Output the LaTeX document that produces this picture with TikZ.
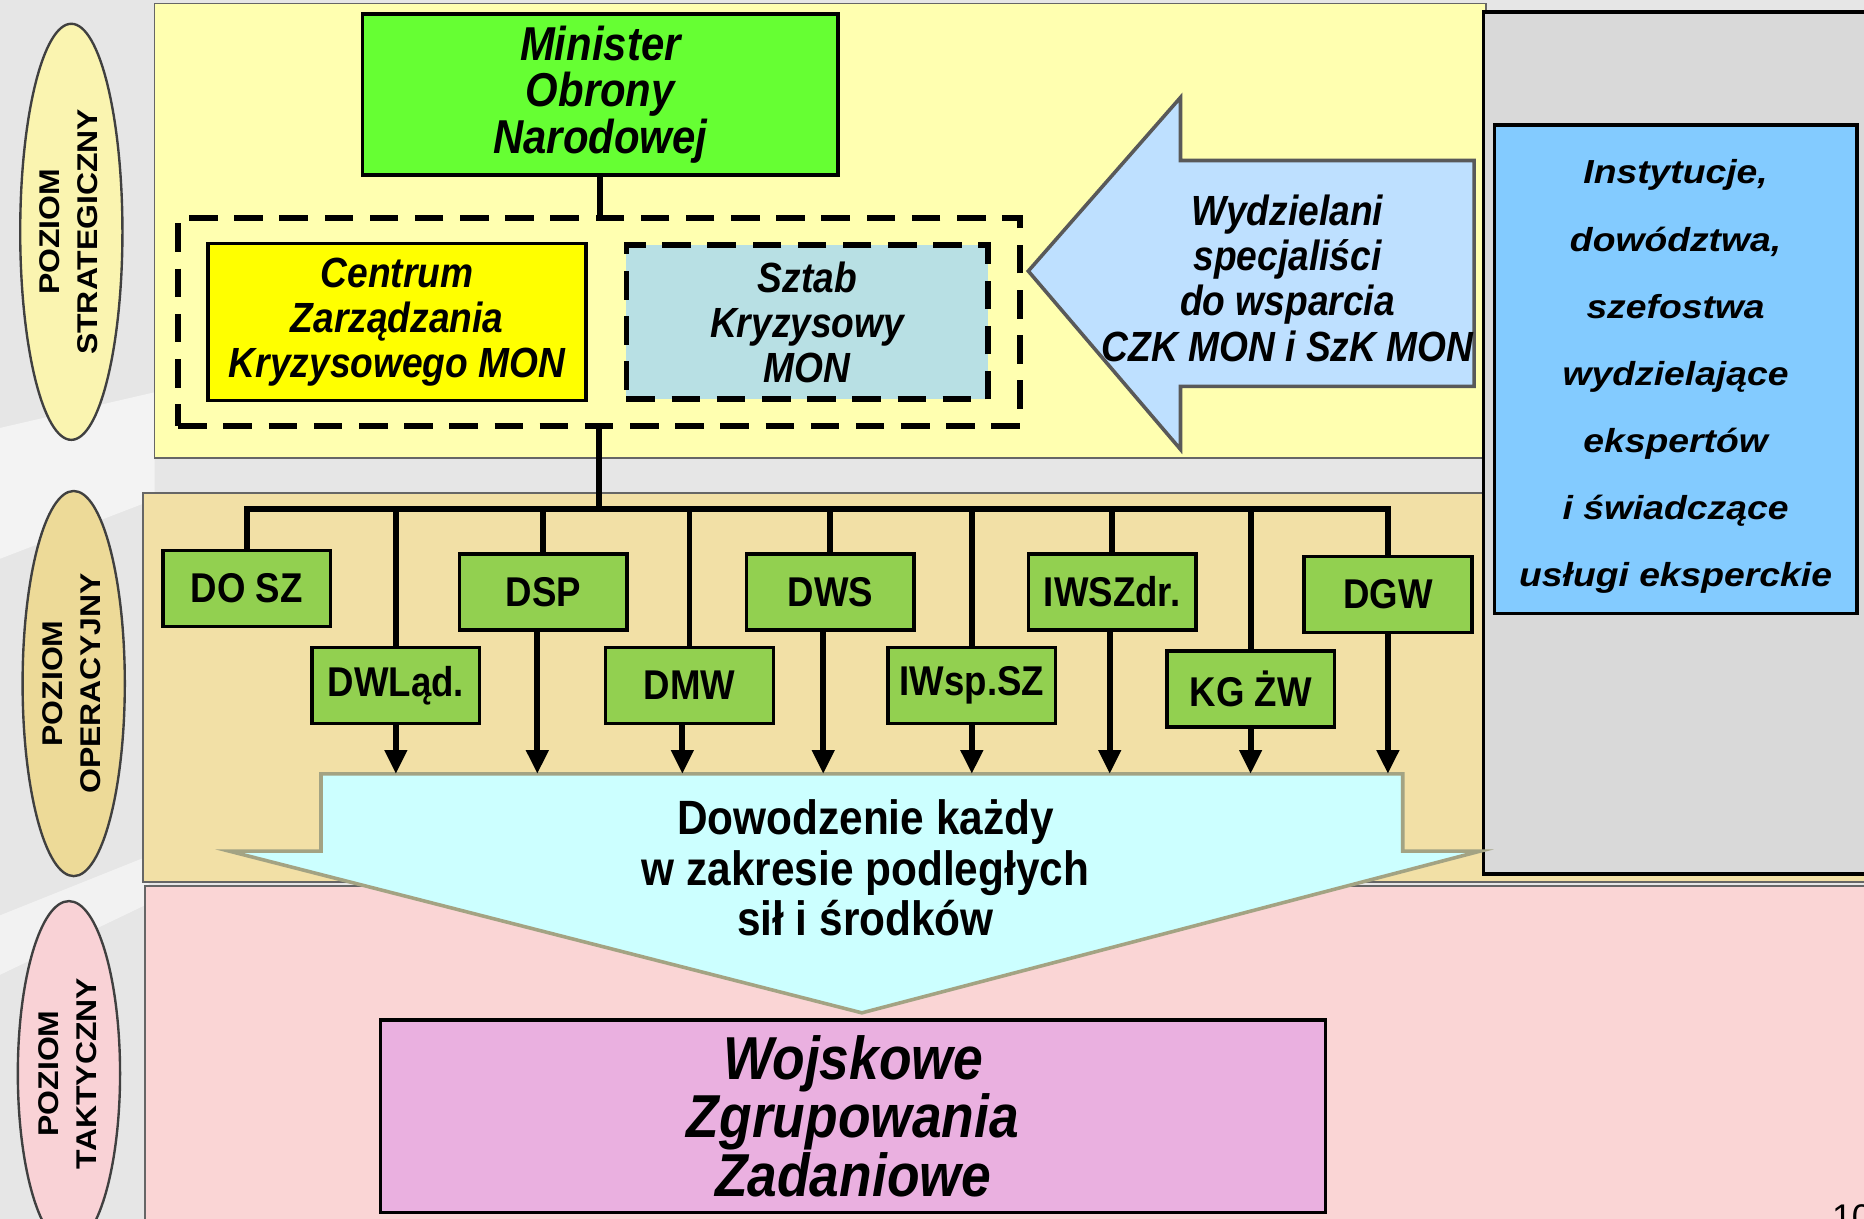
\documentclass[tikz,border=0pt]{standalone}
\usepackage{fontspec}
\setmainfont{Liberation Sans}
\newfontfamily\narrowfont[FakeStretch=0.88]{Liberation Sans}
\newfontfamily\widefont[FakeStretch=1.12]{Liberation Sans}
\usetikzlibrary{arrows.meta,shapes.geometric}
\definecolor{bggray}{HTML}{E6E6E6}
\definecolor{stratband}{HTML}{FFFFB0}
\definecolor{operband}{HTML}{F2E0A6}
\definecolor{taktband}{HTML}{FAD5D5}
\definecolor{stratell}{HTML}{FAF4B0}
\definecolor{operell}{HTML}{EDDA98}
\definecolor{taktell}{HTML}{F9D2D6}
\definecolor{minister}{HTML}{66FF33}
\definecolor{czk}{HTML}{FFFF00}
\definecolor{szk}{HTML}{B8E0E4}
\definecolor{arrowblue}{HTML}{BEE0FF}
\definecolor{panelgray}{HTML}{D9D9D9}
\definecolor{instblue}{HTML}{83CBFF}
\definecolor{boxgreen}{HTML}{92D050}
\definecolor{cmdcyan}{HTML}{CCFFFF}
\definecolor{cmdborder}{HTML}{A3A383}
\definecolor{wzz}{HTML}{EAB0E0}
\tikzset{
  conn/.style={line width=5pt, draw=black},
  arr/.style={conn, -{Triangle[width=18pt,length=20pt]}},
  band/.style={draw=black!60, line width=1.5pt},
  levelell/.style={ellipse, draw=black!75, line width=2pt, minimum width=86pt, inner sep=0pt},
  leveltext/.style={rotate=90, align=center, inner sep=0pt, font=\widefont\bfseries\fontsize{24}{32}\selectfont},
  mainbox/.style={draw=black, line width=3pt, align=center, inner sep=0pt},
  gbox/.style={mainbox, fill=boxgreen, minimum width=141pt, minimum height=64pt, font=\narrowfont\bfseries\fontsize{35}{38}\selectfont},
  dashbox/.style={line width=5pt, dash pattern=on 24pt off 14pt},
  bigtext/.style={align=center, inner sep=0pt, font=\narrowfont\bfseries\itshape\fontsize{35.5}{38}\selectfont}
}
\begin{document}
\begin{tikzpicture}[x=1pt,y=-1pt]
\useasboundingbox (0,0) rectangle (1568,1025);
% background
\fill[bggray] (0,0) rectangle (1568,1025);
\fill[white,opacity=0.55] (0,360) -- (130,330) -- (130,420) -- (0,470) -- cycle;
\fill[white,opacity=0.5] (0,770) -- (125,720) -- (125,760) -- (0,820) -- cycle;
% bands
\fill[taktband,band] (122,745) rectangle (1575,1030);
\fill[operband,band] (120,415) rectangle (1575,742);
\fill[stratband,band] (130,3) rectangle (1250,385);
% level ellipses
\node[levelell, fill=stratell, minimum height=350pt] (eS) at (60,195) {};
\node[leveltext] (tS) at (58,195) {POZIOM\\STRATEGICZNY};
\node[levelell, fill=operell, minimum height=324pt] (eO) at (62,575) {};
\node[leveltext] (tO) at (60,575) {POZIOM\\OPERACYJNY};
\node[levelell, fill=taktell, minimum height=290pt] (eT) at (58,903) {};
\node[leveltext] (tT) at (57,903) {POZIOM\\TAKTYCZNY};
% right gray panel
\draw[fill=panelgray, draw=black, line width=3pt] (1248,10) rectangle (1575,735);
\node[mainbox, fill=instblue, minimum width=305pt, minimum height=411pt] (inst) at (1409.5,310.5) {};
\node[align=center, inner sep=0pt, font=\widefont\bfseries\itshape\fontsize{28}{56.5}\selectfont] (instt) at (1409.5,317) {Instytucje,\\dowództwa,\\szefostwa\\wydzielające\\ekspertów\\i świadczące\\usługi eksperckie};
% strategic level
\node[mainbox, fill=minister, minimum width=400pt, minimum height=135pt, font=\narrowfont\bfseries\itshape\fontsize{40}{39}\selectfont] (mon) at (505,79.5) {Minister\\Obrony\\Narodowej};
\node[dashbox, draw=black, minimum width=708pt, minimum height=175pt, inner sep=0pt] (outer) at (504,270.5) {};
\node[mainbox, fill=czk, minimum width=318pt, minimum height=132pt, font=\narrowfont\bfseries\itshape\fontsize{35.5}{38}\selectfont] (czkb) at (334,271) {Centrum\\Zarządzania\\Kryzysowego MON};
\node[fill=szk, draw=black, dashbox, minimum width=304pt, minimum height=130pt, align=center, inner sep=0pt, font=\narrowfont\bfseries\itshape\fontsize{35.5}{38}\selectfont] (szkb) at (679,271) {Sztab\\Kryzysowy\\MON};
\draw[conn] (mon.south) -- (outer.north -| mon.south);
% left block arrow
\draw[fill=arrowblue, draw=black!65, line width=3pt, line join=miter]
  (865,228) -- (993,82) -- (993,135) -- (1240,135) -- (1240,325) -- (993,325) -- (993,378) -- cycle;
\node[bigtext] (wyd) at (1083,234) {Wydzielani\\specjaliści\\do wsparcia\\CZK MON i SzK MON};
% operational boxes
\node[gbox] (doz) at (207.5,495) {DO SZ};
\node[gbox] (dsp) at (457,498) {DSP};
\node[gbox] (dws) at (698.5,498) {DWS};
\node[gbox] (iwszdr) at (935.5,498) {IWSZdr.};
\node[gbox] (dgw) at (1167.5,500) {DGW};
\node[gbox] (dwl) at (333,576.5) {DWLąd.};
\node[gbox] (dmw) at (580,576.5) {DMW};
\node[gbox] (iwsp) at (817.5,576.5) {IWsp.SZ};
\node[gbox] (kgzw) at (1052,579.5) {KG ŻW};
\coordinate (bus) at (505,428);
\coordinate (atop) at (0,651);
\draw[conn] (outer.south) -- (outer.south |- bus);
\draw[conn, line cap=rect] (doz.north) -- (doz.north |- bus) -- (dgw.north |- bus) -- (dgw.north);
\foreach \n in {dsp,dws,iwszdr,dwl,dmw,iwsp,kgzw}
  \draw[conn] (\n.north) -- (\n.north |- bus);
% big down arrow
\draw[fill=cmdcyan, draw=cmdborder, line width=3pt, line join=miter]
  (270,651) -- (1180,651) -- (1180,716) -- (1245,716) -- (725,852) -- (193,716) -- (270,716) -- cycle;
\foreach \n/\dx in {dwl/0,dsp/-5,dmw/-6,dws/-6,iwsp/0,iwszdr/-2,kgzw/0,dgw/0}
  \draw[arr] ([xshift=\dx pt]\n.south) -- ([xshift=\dx pt]\n.south |- atop);
\node[align=center, inner sep=0pt, font=\narrowfont\bfseries\fontsize{40.5}{42.5}\selectfont] (dow) at (728,730) {Dowodzenie każdy\\w zakresie podległych\\sił i środków};
% tactical
\node[mainbox, fill=wzz, minimum width=795pt, minimum height=162pt, font=\narrowfont\bfseries\itshape\fontsize{51}{49}\selectfont] (wzzb) at (717.5,939) {Wojskowe\\Zgrupowania\\Zadaniowe};
\node[anchor=north west, inner sep=0pt, font=\fontsize{30}{30}\selectfont] (pnum) at (1541,1013) {10};
\end{tikzpicture}
\end{document}
